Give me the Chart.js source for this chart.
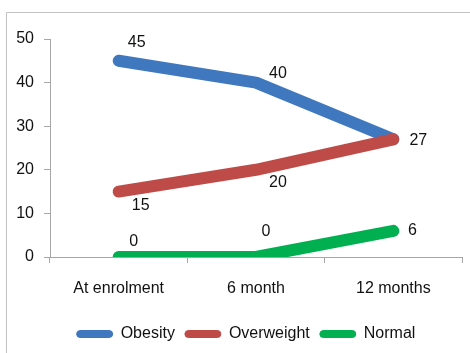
<!DOCTYPE html>
<html>
<head>
<meta charset="utf-8">
<script src="https://cdn.jsdelivr.net/npm/chart.js@4"></script>
<style>
  html, body { margin: 0; padding: 0; background: #fff; }
  #wrap { width: 470px; height: 353px; position: relative; }
</style>
</head>
<body>
<div id="wrap"><canvas id="lineChart" width="470" height="353"></canvas></div>
<script>
// chart data
var categories = ['At enrolment', '6 month', '12 months'];
var obesity = [45, 40, 27];
var overweight = [15, 20, 27];
var normal = [0, 0, 6];
var yTicks = [0, 10, 20, 30, 40, 50];

var FONT = "'Liberation Sans', Arial, sans-serif";

// where each value label sits relative to its point (dx, dy), null = not shown
var labelOffsets = [
    [[18, -18], [22, -9], [25, 1]],
    [[22, 14], [22, 13], null],
    [[15, -15], [10, -25], [19, 0]]
];

// draws the numbers next to the points
var valueLabels = {
    id: 'valueLabels',
    afterDatasetsDraw: function(chart) {
        var ctx = chart.ctx;
        ctx.save();
        ctx.font = '16px ' + FONT;
        ctx.fillStyle = '#111';
        ctx.textAlign = 'center';
        ctx.textBaseline = 'middle';
        chart.data.datasets.forEach(function(ds, i) {
            var meta = chart.getDatasetMeta(i);
            meta.data.forEach(function(pt, j) {
                var off = labelOffsets[i][j];
                if (!off) return;
                ctx.fillText(ds.data[j], pt.x + off[0], pt.y + off[1]);
            });
        });
        ctx.restore();
    }
};

// thin grey frame of the chart box, and nudge the legend a bit right
var frame = {
    id: 'frame',
    afterLayout: function(chart) {
        chart.legend.left += 15;
        chart.legend.right += 15;
    },
    beforeDraw: function(chart) {
        var ctx = chart.ctx;
        ctx.save();
        ctx.strokeStyle = '#c3c3c3';
        ctx.lineWidth = 1;
        ctx.beginPath();
        ctx.moveTo(6.5, 353);
        ctx.lineTo(6.5, 12.5);
        ctx.lineTo(470, 12.5);
        ctx.stroke();
        ctx.restore();
    }
};

function series(label, data, color, order) {
    return {
        label: label,
        data: data,
        borderColor: color,
        backgroundColor: color,
        borderWidth: 12,
        borderCapStyle: 'round',
        borderJoinStyle: 'round',
        pointRadius: 0,
        tension: 0,
        order: order
    };
}

var ctx = document.getElementById('lineChart').getContext('2d');

var myLineChart = new Chart(ctx, {
    type: 'line',
    data: {
        labels: categories,
        datasets: [
            series('Obesity', obesity, '#3f78bf', 2),
            series('Overweight', overweight, '#be4b48', 1),
            series('Normal', normal, '#00b050', 0)
        ]
    },
    options: {
        responsive: false,
        animation: false,
        layout: { padding: { left: 0, right: 8, top: 39, bottom: 1 } },
        plugins: {
            tooltip: { enabled: false },
            legend: {
                position: 'bottom',
                labels: {
                    font: { family: FONT, size: 16 },
                    color: '#111',
                    boxWidth: 36,
                    boxHeight: 7,
                    padding: 10,
                    sort: function(a, b) { return a.datasetIndex - b.datasetIndex; },
                    generateLabels: function(chart) {
                        var items = Chart.defaults.plugins.legend.labels.generateLabels(chart);
                        items.forEach(function(it) {
                            it.lineWidth = 1;
                            it.strokeStyle = it.fillStyle;
                            it.borderRadius = 3.5;
                        });
                        return items;
                    },
                    useBorderRadius: true,
                    borderRadius: 3.5
                }
            }
        },
        scales: {
            x: {
                offset: true,
                afterFit: function(scale) { scale.height = 59; },
                grid: { offset: true, drawOnChartArea: false, tickLength: 6, color: '#a6a6a6' },
                border: { color: '#a6a6a6' },
                ticks: { font: { family: FONT, size: 16 }, color: '#111', padding: 16 }
            },
            y: {
                min: 0,
                max: 50,
                afterBuildTicks: function(scale) {
                    scale.ticks = yTicks.map(function(v) { return { value: v }; });
                },
                afterFit: function(scale) { scale.width = 50; },
                grid: { drawOnChartArea: false, tickLength: 6, color: '#a6a6a6' },
                border: { color: '#a6a6a6' },
                ticks: { font: { family: FONT, size: 16 }, color: '#111', padding: 10 }
            }
        }
    },
    plugins: [frame, valueLabels]
});
</script>
</body>
</html>
